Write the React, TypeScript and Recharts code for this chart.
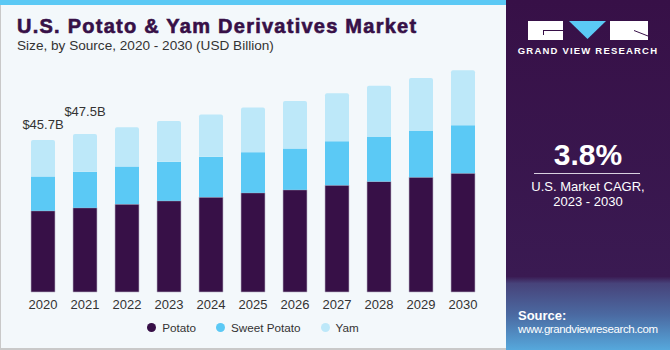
import React from 'react';
import { BarChart, Bar, XAxis, YAxis, Legend, LabelList } from 'recharts';

// values (USD Billion)
const years = ['2020', '2021', '2022', '2023', '2024', '2025', '2026', '2027', '2028', '2029', '2030'];
const potato = [24.4, 25.3, 26.4, 27.4, 28.5, 29.8, 30.7, 32.1, 33.2, 34.5, 35.7];
const sweetPotato = [10.3, 10.8, 11.3, 11.7, 12.1, 12.2, 12.4, 13.2, 13.4, 13.9, 14.4];
const yam = [11.0, 11.4, 11.8, 12.3, 12.7, 13.4, 14.3, 14.4, 15.4, 15.9, 16.5];
const totalLabels = ['$45.7B', '$47.5B'];

const data = years.map((year, i) => ({
  year,
  potato: potato[i],
  sweetPotato: sweetPotato[i],
  yam: yam[i],
}));

const COLORS = {
  potato: '#371047',
  sweetPotato: '#5bc9f5',
  yam: '#bde8f9',
};

const FONT = '"Liberation Sans", Arial, sans-serif';

const renderTotal = (props: any) => {
  const { x, y, width, index } = props;
  if (index >= totalLabels.length) return null;
  const lift = index === 0 ? 11 : 18;
  return (
    <text x={x + width / 2} y={y - lift} textAnchor="middle" fontSize={13} fill="#333" fontFamily={FONT}>
      {totalLabels[index]}
    </text>
  );
};

const renderLegend = (props: any) => (
  <div
    style={{
      display: 'flex',
      justifyContent: 'center',
      alignItems: 'center',
      height: 20,
      gap: 20,
      fontFamily: FONT,
      fontSize: 11.7,
      color: '#333',
    }}
  >
    {(props.payload || []).map((entry: any) => (
      <span key={entry.value} style={{ display: 'flex', alignItems: 'center' }}>
        <span
          style={{
            width: 9,
            height: 9,
            borderRadius: '50%',
            background: entry.color,
            marginRight: 6,
          }}
        />
        {entry.value}
      </span>
    ))}
  </div>
);

const box = (left: number, top: number, width: number, height: number, background: string): React.CSSProperties => ({
  position: 'absolute',
  left,
  top,
  width,
  height,
  background,
});

function Logo() {
  return (
    <>
      <div style={box(528, 21, 35, 19, '#fff')} />
      <div style={box(543, 30, 20, 1, '#371047')} />
      <div style={box(543, 30, 1, 5, '#371047')} />
      <svg width={40} height={20} style={{ position: 'absolute', left: 568, top: 21 }}>
        <polygon points="1,0 38,0 19.5,18" fill="#5bc9f5" />
      </svg>
      <div style={box(610, 21, 38, 19, '#fff')} />
      <svg width={40} height={20} style={{ position: 'absolute', left: 610, top: 21 }}>
        <line x1={24} y1={9.5} x2={38} y2={15} stroke="#371047" strokeWidth={1} />
      </svg>
    </>
  );
}

export default function App() {
  return (
    <div style={{ position: 'relative', width: 670, height: 350, overflow: 'hidden', fontFamily: FONT }}>
      <style>{'body{margin:0}'}</style>

      {/* left panel */}
      <div
        style={{
          position: 'absolute',
          left: 0,
          top: 0,
          width: 506,
          height: 350,
          background: '#f3f8fb',
          borderLeft: '1px solid #c9c9c9',
          borderBottom: '2px solid #c9c9c9',
          boxSizing: 'border-box',
        }}
      />
      <div style={box(0, 0, 506, 5, '#5bc9f5')} />
      <div
        style={{
          position: 'absolute',
          left: 17,
          top: 15,
          fontSize: 20,
          fontWeight: 'bold',
          color: '#371047',
          letterSpacing: 1.25,
          WebkitTextStroke: '0.6px #371047',
          whiteSpace: 'nowrap',
        }}
      >
        U.S. Potato &amp; Yam Derivatives Market
      </div>
      <div style={{ position: 'absolute', left: 17, top: 38, fontSize: 13.6, color: '#333', whiteSpace: 'nowrap' }}>
        Size, by Source, 2020 - 2030 (USD Billion)
      </div>

      <div style={{ position: 'absolute', left: 0, top: 0 }}>
        <BarChart width={506} height={350} data={data} margin={{ top: 59, right: 22, left: 22, bottom: 13 }}>
          <XAxis
            dataKey="year"
            axisLine={false}
            tickLine={false}
            height={25}
            interval={0}
            tick={{ fontSize: 13, fill: '#333', fontFamily: FONT }}
          />
          <YAxis hide domain={[0, 70]} />
          <Legend verticalAlign="bottom" content={renderLegend} />
          <Bar dataKey="potato" name="Potato" stackId="a" fill={COLORS.potato} barSize={24} stroke="#b9b3c6" strokeWidth={0.6} isAnimationActive={false} />
          <Bar dataKey="sweetPotato" name="Sweet Potato" stackId="a" fill={COLORS.sweetPotato} barSize={24} isAnimationActive={false} />
          <Bar dataKey="yam" name="Yam" stackId="a" fill={COLORS.yam} barSize={24} radius={[2, 2, 0, 0]} isAnimationActive={false}>
            <LabelList dataKey="yam" content={renderTotal} />
          </Bar>
        </BarChart>
      </div>

      {/* right panel */}
      <div
        style={{
          position: 'absolute',
          left: 506,
          top: 0,
          width: 164,
          height: 350,
          background:
            'linear-gradient(to bottom, #371047 0%, #3a1a52 79%, #47437a 81%, #4b6aa2 90%, #56a8dc 100%)',
        }}
      />
      <Logo />
      <div
        style={{
          position: 'absolute',
          left: 506,
          top: 45,
          width: 164,
          textAlign: 'center',
          color: '#fff',
          fontSize: 9.5,
          fontWeight: 'bold',
          letterSpacing: 1.2,
        }}
      >
        GRAND VIEW RESEARCH
      </div>
      <div
        style={{
          position: 'absolute',
          left: 506,
          top: 138,
          width: 164,
          textAlign: 'center',
          color: '#fff',
          fontSize: 30,
          fontWeight: 'bold',
        }}
      >
        3.8%
      </div>
      <div style={box(534, 173, 106, 1, '#d8d0e0')} />
      <div
        style={{
          position: 'absolute',
          left: 506,
          top: 179,
          width: 164,
          textAlign: 'center',
          color: '#fff',
          fontSize: 13,
          lineHeight: '15px',
        }}
      >
        U.S. Market CAGR,
        <br />
        2023 - 2030
      </div>
      <div style={{ position: 'absolute', left: 518, top: 308, color: '#fff', fontSize: 13, fontWeight: 'bold' }}>
        Source:
      </div>
      <div
        style={{
          position: 'absolute',
          left: 518,
          top: 323,
          color: '#fff',
          fontSize: 11.5,
          letterSpacing: -0.4,
          whiteSpace: 'nowrap',
        }}
      >
        www.grandviewresearch.com
      </div>
    </div>
  );
}
